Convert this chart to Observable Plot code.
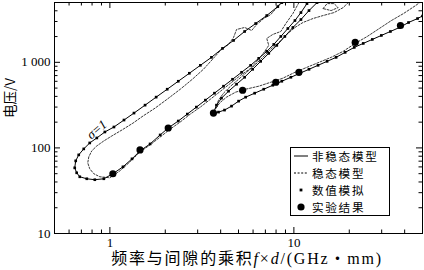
<!DOCTYPE html>
<html><head><meta charset="utf-8">
<script src="https://cdn.jsdelivr.net/npm/d3@7"></script>
<script src="https://cdn.jsdelivr.net/npm/@observablehq/plot@0.6"></script>
<style>
body{margin:0;background:#fff}
#wrap{position:relative;width:424px;height:270px;overflow:hidden}
#legend{position:absolute;left:290px;top:147px;width:100px;height:69px;box-sizing:border-box;border:1px solid #000;background:#fff;
  font-family:"Noto Sans CJK SC";font-size:11.6px;letter-spacing:1.7px;color:#000}
#legend .row{display:flex;align-items:center;height:16.9px;line-height:16.9px;white-space:nowrap}
#legend .row svg{flex:none;margin-left:2px;margin-right:3px}
</style>
</head><body><div id="wrap"></div>
<script>
// ---- data (f·d in GHz·mm, voltage in V) ----
const nonSteadyZone1Upper = [[0.644,58.5],[0.652,70.6],[0.677,82.9],[0.721,97.4],[0.777,114.3],[0.849,130.7],[0.939,153.5],[1.052,175.5],[1.193,211.7],[1.352,255.3],[1.553,316],[1.784,392],[2.049,485],[2.353,601],[2.703,745],[3.103,923],[3.564,1143],[4.093,1455],[4.700,1802],[5.398,2293],[6.199,2841],[7.120,3520],[8.176,4479],[8.598,4985]];
const nonSteadyZone1Lower = [[0.644,58.5],[0.660,51.2],[0.686,46.0],[0.749,43.6],[0.828,42.5],[0.927,43.6],[1.038,49.9],[1.178,60.1],[1.319,74.5],[1.458,92.3],[1.654,111.3],[1.876,141.7],[2.075,170.9],[2.353,206.1],[2.635,248.5],[2.951,299.8],[3.305,361.5],[3.701,436],[4.145,526],[4.642,634],[5.197,765],[5.821,923],[6.439,1113],[7.120,1343],[7.776,1619],[8.492,2006],[9.273,2485],[10.13,3078],[10.92,3814],[11.78,4853]];
const nonSteadyZone2Upper = [[3.654,255.3],[3.795,316.2],[4.042,381.5],[4.414,460],[4.881,555],[5.398,669],[5.970,829],[6.601,1027],[7.301,1273],[8.073,1577],[8.929,2006],[9.874,2553],[10.92,3162],[12.08,4024],[13.36,4985]];
const nonSteadyZone2Lower = [[3.654,255.3],[3.893,262.1],[4.198,276.7],[4.583,307.8],[5.006,352],[5.467,391.7],[6.122,436],[6.857,485],[7.679,540],[8.598,601],[9.630,669],[10.78,745],[12.08,829],[13.53,923],[15.15,1027],[16.96,1143],[18.99,1307],[21.28,1494],[23.82,1663],[26.68,1851],[29.88,2061],[33.46,2293],[37.49,2553],[41.98,2919],[47.00,3248],[50,3480]];
const steadyZone1 = [[10.65,4985],[9.874,3713],[9.044,2841],[8.492,2293],[7.679,2117],[7.120,1902],[7.301,1577],[6.944,1343],[6.439,1083],[5.821,851],[5.133,706],[4.526,570],[3.992,460],[3.520,371],[3.103,300],[2.736,248.5],[2.413,201],[2.128,166],[1.876,134],[1.654,108.4],[1.458,89.8],[1.286,68.7],[1.134,54.0],[1.000,44.8],[0.882,46.0],[0.818,49.9],[0.777,57.0],[0.758,66.9],[0.768,78.6],[0.797,92.3],[0.849,105.5],[0.927,120.6],[1.025,138],[1.163,162],[1.336,195],[1.514,236],[1.762,292],[2.049,371],[2.413,485],[2.806,634],[3.223,829],[3.610,1083],[3.992,1379],[4.414,1619],[4.700,1953],[4.881,2420],[5.398,2553],[5.895,2356],[6.279,2767],[6.857,3248],[7.485,3614],[8.073,4359],[8.492,4985]];
const steadyZone2Upper = [[3.748,284],[3.893,361.5],[4.145,436],[4.526,526],[5.006,634],[5.536,765],[6.122,923],[6.771,1143],[7.485,1417],[8.279,1709],[9.157,2117],[10.13,2553],[11.20,2919],[12.70,3248],[14.41,3520],[16.54,3814],[18.52,4359],[19.73,4985]];
const steadyZone2Lower = [[3.748,284],[3.941,334],[4.305,391.7],[4.822,448],[5.467,485],[6.439,526],[7.485,585],[8.708,652],[10.13,765],[11.78,875],[13.70,1000],[15.93,1143],[18.52,1343],[21.54,1663],[25.05,2006],[29.14,2485],[33.89,3078],[39.41,3713],[45.84,4600],[48.20,4985]];
const steadyLoop = [[14.41,4245],[15.15,4853],[16.54,4853],[17.39,4359],[15.93,4024],[14.41,4245]];
const experiment = [[1.038,49.9],[1.458,94.8],[2.075,170.9],[3.654,255.3],[5.264,472],[7.974,585],[10.65,765],[21.54,1709],[37.95,2693]];
const annotations = [{x:0.849, y:164, text:"σ=1"}];
const xMajor = [1,10];
const xMinor = [0.5,0.6,0.7,0.8,0.9,2,3,4,5,6,7,8,9,20,30,40,50];
const yMajor = [10,100,1000];
const yMinor = [20,30,40,50,60,70,80,90,200,300,400,500,600,700,800,900,2000,3000,4000,5000];
const yTickLabels = {10:"10",100:"100",1000:"1 000"};
const xTitle = ["频率与间隙的乘积","f","×","d","/(GHz","・","mm)"];
const yTitle = "电压/V";
const legendLabels = ["非稳态模型","稳态模型","数值模拟","实验结果"];

// ---- build tables ----
const rows = (arr, s) => arr.map(([x,y]) => ({x, y, s}));
const solid = [
  ...rows([...nonSteadyZone1Lower].reverse().concat(nonSteadyZone1Upper.slice(1)), "z1"),
  ...rows([...nonSteadyZone2Upper].reverse().concat(nonSteadyZone2Lower.slice(1)), "z2")
];
const dashed = [
  ...rows(steadyZone1, "d1"),
  ...rows([...steadyZone2Upper].reverse().concat(steadyZone2Lower.slice(1)), "d2"),
  ...rows(steadyLoop, "d3")
];
const exp = rows(experiment, "e");

const W = 424, H = 270, mL = 54, mR = 2, mT = 2, mB = 37;
const fw = W - mL - mR, fh = H - mT - mB;
const SERIF = '"Liberation Serif", "Noto Sans CJK SC", serif';

const chart = Plot.plot({
  width: W, height: H, marginLeft: mL, marginRight: mR, marginTop: mT, marginBottom: mB,
  x: {type: "log", domain: [0.5, 50]},
  y: {type: "log", domain: [10, 5000]},
  style: {fontFamily: SERIF, fontSize: "13px", color: "black", background: "white"},
  marks: [
    Plot.line(dashed, {x: "x", y: "y", z: "s", stroke: "#222", strokeWidth: 0.9, strokeDasharray: "2,1.6", clip: true}),
    Plot.line(solid, {x: "x", y: "y", z: "s", stroke: "black", strokeWidth: 1, clip: true}),
    Plot.dot(solid, {x: "x", y: "y", symbol: "square", r: 1.5, fill: "black", clip: true}),
    Plot.dot(exp, {x: "x", y: "y", r: 3.6, fill: "black"}),
    Plot.text(annotations, {x: "x", y: "y", text: "text", rotate: -40, fontSize: 13, fontStyle: "italic", fill: "black"}),
    Plot.frame({stroke: "black", strokeWidth: 1}),
    Plot.tickX(xMajor, {x: d => d, insetTop: fh - 6}),
    Plot.tickX(xMajor, {x: d => d, insetBottom: fh - 6}),
    Plot.tickX(xMinor, {x: d => d, insetTop: fh - 3.5}),
    Plot.tickX(xMinor, {x: d => d, insetBottom: fh - 3.5}),
    Plot.tickY(yMajor, {y: d => d, insetRight: fw - 6}),
    Plot.tickY(yMajor, {y: d => d, insetLeft: fw - 6}),
    Plot.tickY(yMinor, {y: d => d, insetRight: fw - 3.5}),
    Plot.tickY(yMinor, {y: d => d, insetLeft: fw - 3.5}),
    Plot.axisX({ticks: xMajor, tickSize: 0, tickPadding: 4, tickFormat: d => String(d), label: null, fontSize: 13}),
    Plot.axisY({ticks: yMajor, tickSize: 0, tickPadding: 4, tickFormat: d => yTickLabels[d], label: null, fontSize: 13}),
    Plot.text([yTitle], {text: d => d, frameAnchor: "left", rotate: -90, dx: -44, dy: 0, fontSize: 13.5, fontFamily: '"Noto Sans CJK SC"', fill: "black"})
  ]
});
const wrap = document.getElementById("wrap");
wrap.appendChild(chart);

// x-axis title with italic symbols
const svg = d3.select(chart);
const t = svg.append("text").attr("x", 247).attr("y", 264).attr("text-anchor", "middle")
  .attr("font-size", 16).attr("letter-spacing", "1.8px").attr("fill", "black").attr("font-family", SERIF);
xTitle.forEach((s, i) => {
  const sp = t.append("tspan").text(s);
  if (s === "f" || s === "d") sp.attr("font-style", "italic");
  if (i === 0 || s === "・") sp.attr("font-family", '"Noto Sans CJK SC"');
});

// legend box inside the plot area (HTML overlay)
const lg = d3.select(wrap).append("div").attr("id", "legend");
legendLabels.forEach((lab, i) => {
  const row = lg.append("div").attr("class", "row");
  const s = row.append("svg").attr("width", 16).attr("height", 12);
  if (i === 0) s.append("line").attr("x1", 1).attr("x2", 15).attr("y1", 6).attr("y2", 6).attr("stroke", "black");
  if (i === 1) s.append("line").attr("x1", 1).attr("x2", 15).attr("y1", 6).attr("y2", 6).attr("stroke", "black").attr("stroke-dasharray", "2,1.6");
  if (i === 2) s.append("rect").attr("x", 6.6).attr("y", 4.6).attr("width", 2.8).attr("height", 2.8).attr("fill", "black");
  if (i === 3) s.append("circle").attr("cx", 8).attr("cy", 6).attr("r", 3.6).attr("fill", "black");
  row.append("span").text(lab);
});
</script></body></html>
